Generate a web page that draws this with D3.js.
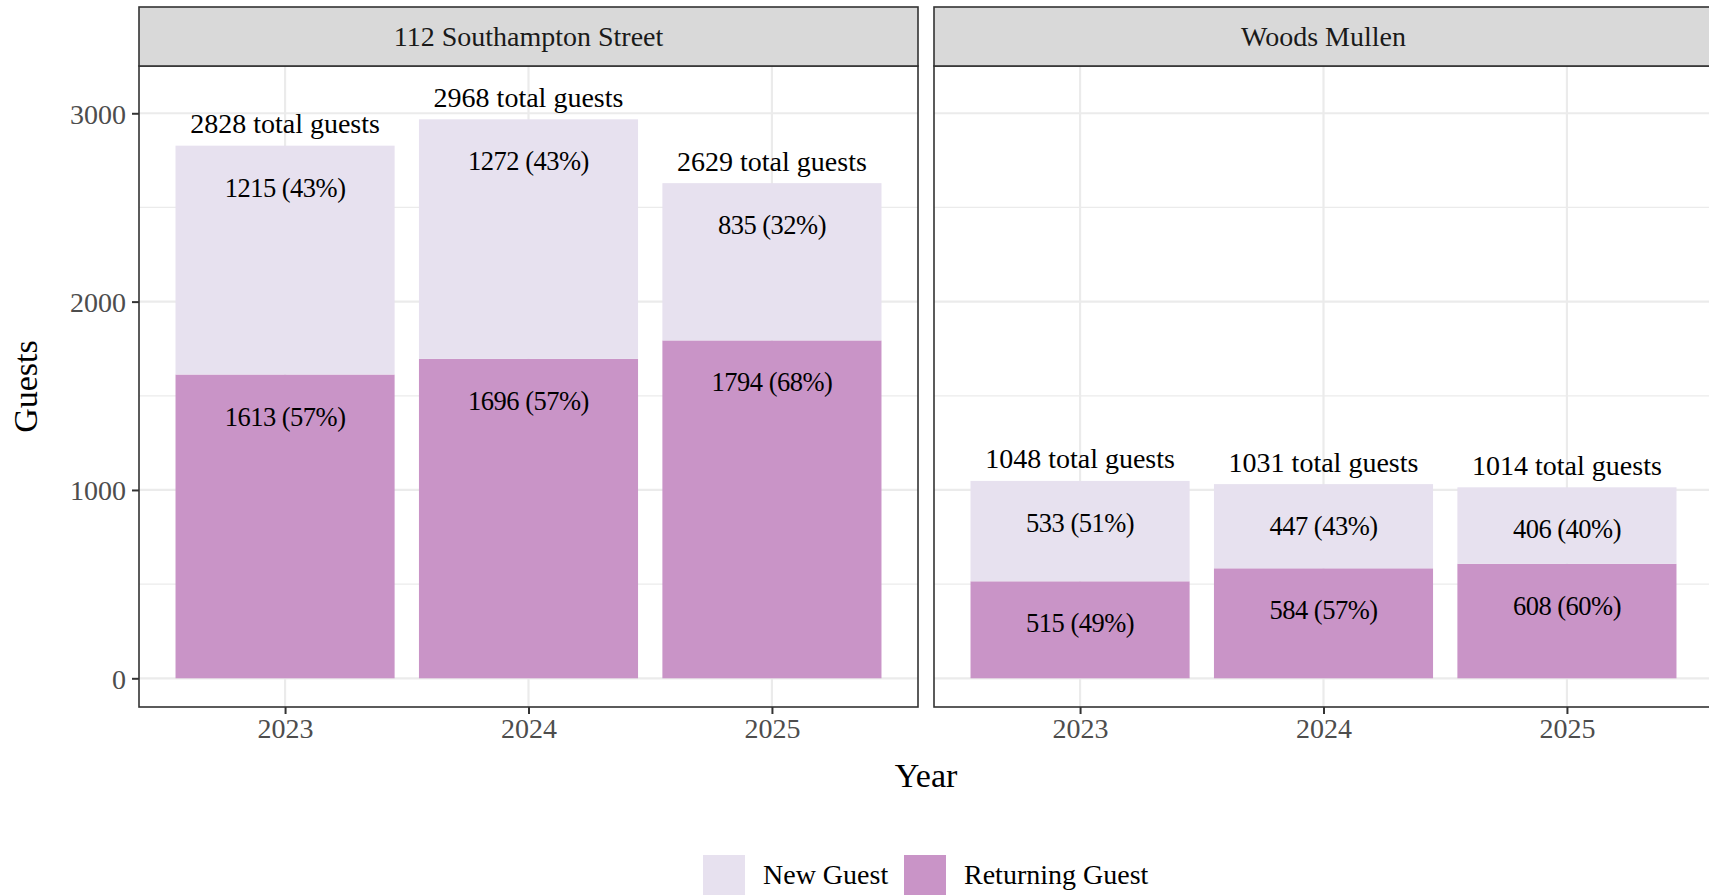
<!DOCTYPE html>
<html>
<head>
<meta charset="utf-8">
<script src="https://cdn.jsdelivr.net/npm/d3@7"></script>
<style>
  html, body { margin: 0; padding: 0; background: #fff; }
  svg { display: block; }
  text { font-family: "Liberation Serif", "DejaVu Serif", serif; }
</style>
</head>
<body>
<svg id="chart" width="1709" height="895"></svg>
<script>
// ---------- data ----------
const locations = ["112 Southampton Street", "Woods Mullen"];
const years = ["2023", "2024", "2025"];
const southamptonNew = [1215, 1272, 835];
const southamptonReturning = [1613, 1696, 1794];
const woodsNew = [533, 447, 406];
const woodsReturning = [515, 584, 608];
const guestTypes = ["New Guest", "Returning Guest"];
const yTicks = [0, 1000, 2000, 3000];
const yMinorTicks = [500, 1500, 2500];
const xTitle = "Year";
const yTitle = "Guests";

const newByLoc = [southamptonNew, woodsNew];
const retByLoc = [southamptonReturning, woodsReturning];

// ---------- layout ----------
const stripTop = 7, stripBottom = 66, plotBottom = 707;
const panelX = [[139, 918], [934, 1713]];
const colors = { "New Guest": "#e7e1ef", "Returning Guest": "#c994c7" };
const fontSize = 28;

const svg = d3.select("#chart");

const y = d3.scaleLinear().domain([-152.4, 3251]).range([plotBottom, stripBottom]);

locations.forEach((loc, li) => {
  const [x0, x1] = panelX[li];
  const x = d3.scaleBand().domain(years).range([x0, x1]).paddingInner(0.1).paddingOuter(0.15);
  const g = svg.append("g");

  g.append("rect").attr("x", x0).attr("y", stripBottom).attr("width", x1 - x0).attr("height", plotBottom - stripBottom)
    .attr("fill", "#fff");

  // minor grid
  g.selectAll(".ymin").data(yMinorTicks).join("line")
    .attr("x1", x0).attr("x2", x1).attr("y1", d => y(d)).attr("y2", d => y(d))
    .attr("stroke", "#ebebeb").attr("stroke-width", 1.2);
  // major grid
  g.selectAll(".ymaj").data(yTicks).join("line")
    .attr("x1", x0).attr("x2", x1).attr("y1", d => y(d)).attr("y2", d => y(d))
    .attr("stroke", "#ebebeb").attr("stroke-width", 2.2);
  g.selectAll(".xmaj").data(years).join("line")
    .attr("x1", d => x(d) + x.bandwidth() / 2).attr("x2", d => x(d) + x.bandwidth() / 2)
    .attr("y1", stripBottom).attr("y2", plotBottom)
    .attr("stroke", "#ebebeb").attr("stroke-width", 2.2);

  const rows = years.map((yr, i) => ({
    year: yr, nw: newByLoc[li][i], ret: retByLoc[li][i], total: newByLoc[li][i] + retByLoc[li][i]
  }));

  const stack = d3.stack().keys(["ret", "nw"])(rows);
  const keyName = { ret: "Returning Guest", nw: "New Guest" };
  stack.forEach(layer => {
    g.selectAll(null).data(layer).join("rect")
      .attr("x", d => x(d.data.year))
      .attr("width", x.bandwidth())
      .attr("y", d => y(d[1]))
      .attr("height", d => y(d[0]) - y(d[1]))
      .attr("fill", colors[keyName[layer.key]]);
    g.selectAll(null).data(layer).join("text")
      .attr("x", d => x(d.data.year) + x.bandwidth() / 2)
      .attr("y", d => y(d[1]) + 51)
      .attr("text-anchor", "middle")
      .attr("font-size", 26.5)
      .attr("letter-spacing", "-0.5px")
      .attr("fill", "#000")
      .text(d => {
        const v = d[1] - d[0];
        return `${v} (${Math.round(100 * v / d.data.total)}%)`;
      });
  });

  g.selectAll(null).data(rows).join("text")
    .attr("x", d => x(d.year) + x.bandwidth() / 2)
    .attr("y", d => y(d.total) - 12.5)
    .attr("text-anchor", "middle")
    .attr("font-size", fontSize)
    .attr("fill", "#000")
    .text(d => `${d.total} total guests`);

  g.append("rect").attr("x", x0).attr("y", stripBottom).attr("width", x1 - x0).attr("height", plotBottom - stripBottom)
    .attr("fill", "none").attr("stroke", "#333").attr("stroke-width", 1.6);

  g.append("rect").attr("x", x0).attr("y", stripTop).attr("width", x1 - x0).attr("height", stripBottom - stripTop)
    .attr("fill", "#d9d9d9").attr("stroke", "#333").attr("stroke-width", 1.6);
  g.append("text").attr("x", (x0 + x1) / 2).attr("y", (stripTop + stripBottom) / 2 + 9)
    .attr("text-anchor", "middle").attr("font-size", fontSize).attr("fill", "#1a1a1a").text(loc);

  const xAxis = d3.axisBottom(d3.scalePoint().domain(years).range([x(years[0]) + x.bandwidth() / 2, x(years[2]) + x.bandwidth() / 2]))
    .tickSize(7).tickPadding(5);
  const ax = g.append("g").attr("transform", `translate(0,${plotBottom})`).call(xAxis);
  ax.select(".domain").remove();
  ax.selectAll(".tick line").attr("stroke", "#333").attr("stroke-width", 2);
  ax.selectAll(".tick text").attr("font-size", fontSize).attr("fill", "#4d4d4d")
    .attr("font-family", "Liberation Serif, DejaVu Serif, serif")
    .attr("dy", null).attr("y", 31);

  if (li === 0) {
    const yAxis = d3.axisLeft(y).tickValues(yTicks).tickSize(7).tickPadding(6).tickFormat(d3.format("d"));
    const ay = g.append("g").attr("transform", `translate(${x0},0)`).call(yAxis);
    ay.select(".domain").remove();
    ay.selectAll(".tick line").attr("stroke", "#333").attr("stroke-width", 2);
    ay.selectAll(".tick text").attr("font-size", fontSize).attr("fill", "#4d4d4d")
      .attr("font-family", "Liberation Serif, DejaVu Serif, serif")
      .attr("dy", null).attr("y", 10).attr("x", -13);
  }
});

svg.append("text").attr("x", (panelX[0][0] + panelX[1][1]) / 2).attr("y", 787)
  .attr("text-anchor", "middle").attr("font-size", 34).attr("fill", "#000").text(xTitle);
svg.append("text").attr("transform", `translate(37,${(stripBottom + plotBottom) / 2}) rotate(-90)`)
  .attr("text-anchor", "middle").attr("font-size", 34).attr("fill", "#000").text(yTitle);

const legendX = [703, 904];
const lg = svg.append("g");
guestTypes.forEach((t, i) => {
  lg.append("rect").attr("x", legendX[i]).attr("y", 855).attr("width", 42).attr("height", 42).attr("fill", colors[t]);
  lg.append("text").attr("x", legendX[i] + 60).attr("y", 884).attr("font-size", fontSize).attr("fill", "#000").text(t);
});
</script>
</body>
</html>
